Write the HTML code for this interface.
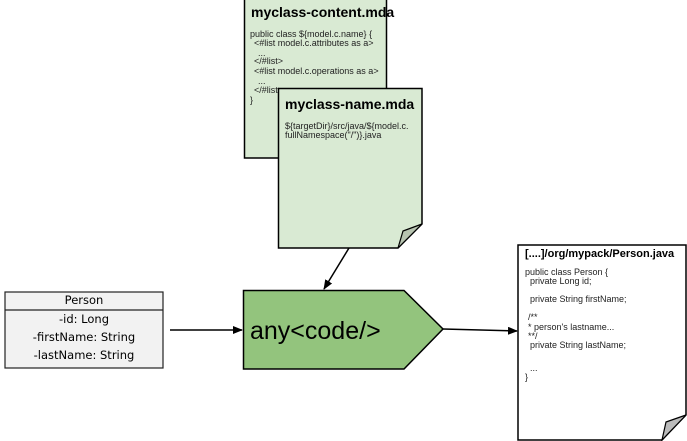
<!DOCTYPE html>
<html><head><meta charset="utf-8"><style>
body{margin:0;width:687px;height:441px;background:#fff;overflow:hidden}
svg{display:block}
text{font-family:"Liberation Sans",Arial,sans-serif}
.h{font-family:"Comic Sans MS","DejaVu Sans",sans-serif;font-size:11.5px}
</style></head><body>
<svg width="687" height="441" viewBox="0 0 687 441">
<defs><marker id="a" markerWidth="10" markerHeight="8" refX="9" refY="4" orient="auto" markerUnits="userSpaceOnUse"><path d="M0,0L10,4L0,8z" fill="#000"/></marker></defs>
<rect x="244.5" y="-2" width="142" height="160" fill="#d9ead3" stroke="#000" stroke-width="1.5"/>
<text x="251" y="17" font-size="14" font-weight="bold">myclass-content.mda</text>
<g font-size="9" fill="#222">
<text x="250" y="37">public class ${model.c.name} {</text>
<text x="254" y="46">&lt;#list model.c.attributes as a&gt;</text>
<text x="258" y="56">...</text>
<text x="254" y="64">&lt;/#list&gt;</text>
<text x="254" y="74">&lt;#list model.c.operations as a&gt;</text>
<text x="258" y="84">...</text>
<text x="254" y="93">&lt;/#list&gt;</text>
<text x="250" y="103">}</text>
</g>
<path d="M278.5,88.5H422V224L398,248H278.5Z" fill="#d9ead3" stroke="#000" stroke-width="1.5"/>
<path d="M398,248L403,231L422,224Z" fill="#b7c4b0" stroke="#000" stroke-width="1.2"/>
<text x="285" y="109" font-size="14" font-weight="bold">myclass-name.mda</text>
<g font-size="9" fill="#222">
<text x="285" y="129">${targetDir}/src/java/${model.c.</text>
<text x="285" y="138">fullNamespace("/")}.java</text>
</g>
<path d="M518,245H686V415L662,440H518Z" fill="#fff" stroke="#000" stroke-width="1.5"/>
<path d="M662,440L666,422L686,415Z" fill="#bbb" stroke="#000" stroke-width="1.2"/>
<text x="525" y="257" font-size="11" font-weight="bold">[....]/org/mypack/Person.java</text>
<g font-size="9" fill="#222">
<text x="525" y="275">public class Person {</text>
<text x="530" y="284">private Long id;</text>
<text x="530" y="302">private String firstName;</text>
<text x="528" y="320">/**</text>
<text x="528" y="330">* person's lastname...</text>
<text x="528" y="339">**/</text>
<text x="530" y="348">private String lastName;</text>
<text x="530" y="371">...</text>
<text x="525" y="380">}</text>
</g>
<rect x="5" y="292" width="158" height="76" fill="#f2f2f2" stroke="#222" stroke-width="1.2"/>
<line x1="5" y1="310" x2="163" y2="310" stroke="#222" stroke-width="1.2"/>
<text class="h" x="84" y="304" text-anchor="middle" font-size="10">Person</text>
<text class="h" x="84" y="323" text-anchor="middle">-id: Long</text>
<text class="h" x="84" y="341" text-anchor="middle">-firstName: String</text>
<text class="h" x="84" y="359" text-anchor="middle">-lastName: String</text>
<path d="M243.5,290.5H404L443,329L404,369H243.5Z" fill="#93c47d" stroke="#000" stroke-width="1.5"/>
<text x="250" y="339" font-size="25">any&lt;code/&gt;</text>
<line x1="170" y1="330" x2="242" y2="330" stroke="#000" stroke-width="1.5" marker-end="url(#a)"/>
<line x1="443" y1="329" x2="517" y2="331" stroke="#000" stroke-width="1.5" marker-end="url(#a)"/>
<line x1="349" y1="248" x2="324" y2="289" stroke="#000" stroke-width="1.5" marker-end="url(#a)"/>
</svg>
</body></html>
